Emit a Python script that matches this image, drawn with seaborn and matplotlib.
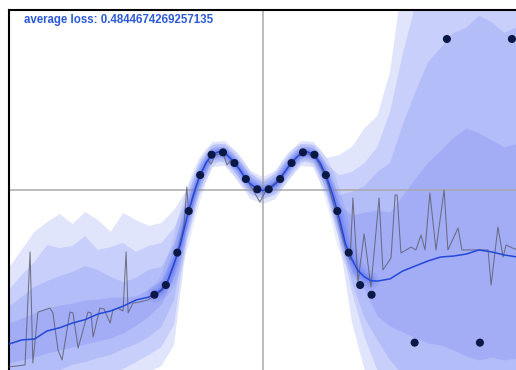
import matplotlib
matplotlib.use("Agg")
import matplotlib.pyplot as plt
import seaborn as sns
import numpy as np
import pandas as pd

# ---------------- data ----------------
grid_x = [-1.0, -0.95, -0.9, -0.85, -0.8, -0.75, -0.7, -0.65, -0.6, -0.55, -0.5,
          -0.45, -0.4, -0.35, -0.3, -0.25, -0.2, -0.15, -0.1, -0.05, 0.0,
          0.05, 0.1, 0.15, 0.2, 0.25, 0.3, 0.35, 0.4, 0.45, 0.5,
          0.55, 0.6, 0.65, 0.7, 0.75, 0.8, 0.85, 0.9, 0.95, 1.0]

upper1 = [-0.433, -0.333, -0.233, -0.178, -0.133, -0.189, -0.122, -0.167, -0.233, -0.128, -0.167,
          -0.2, -0.183, -0.111, 0.0, 0.167, 0.267, 0.272, 0.206, 0.106, 0.072,
          0.106, 0.206, 0.272, 0.267, 0.178, 0.194, 0.239, 0.344, 0.411, 0.656,
          1.167, 1.222, 1.278, 1.278, 1.278, 1.278, 1.278, 1.278, 1.278, 1.278]
upper2 = [-0.556, -0.472, -0.4, -0.306, -0.322, -0.311, -0.256, -0.333, -0.317, -0.294, -0.344,
          -0.311, -0.294, -0.211, -0.044, 0.139, 0.25, 0.256, 0.183, 0.089, 0.056,
          0.089, 0.183, 0.256, 0.25, 0.144, 0.083, 0.1, 0.15, 0.239, 0.433,
          0.756, 1.028, 1.111, 1.139, 1.139, 1.139, 1.139, 1.139, 1.139, 1.139]
upper3 = [-0.65, -0.594, -0.539, -0.506, -0.478, -0.456, -0.422, -0.444, -0.483, -0.511, -0.489,
          -0.444, -0.428, -0.3, -0.083, 0.117, 0.233, 0.239, 0.167, 0.072, 0.039,
          0.072, 0.167, 0.239, 0.233, 0.117, -0.028, -0.011, 0.022, 0.1, 0.15,
          0.361, 0.544, 0.711, 0.789, 0.872, 0.9, 0.967, 0.933, 0.872, 0.906]
upper4 = [-0.739, -0.711, -0.683, -0.656, -0.639, -0.628, -0.611, -0.606, -0.594, -0.594, -0.589,
          -0.55, -0.5, -0.356, -0.111, 0.1, 0.217, 0.222, 0.15, 0.056, 0.025,
          0.056, 0.15, 0.222, 0.217, 0.1, -0.083, -0.139, -0.122, -0.111, -0.122,
          -0.028, 0.067, 0.156, 0.222, 0.294, 0.344, 0.317, 0.278, 0.239, 0.261]
lower4 = [-0.961, -0.944, -0.928, -0.906, -0.889, -0.872, -0.856, -0.839, -0.822, -0.794, -0.75,
          -0.7, -0.633, -0.472, -0.194, 0.05, 0.183, 0.189, 0.117, 0.022, -0.006,
          0.022, 0.117, 0.189, 0.183, 0.05, -0.2, -0.456, -0.556, -0.7, -0.756,
          -0.789, -0.822, -0.85, -0.861, -0.889, -0.922, -0.944, -0.928, -0.944, -0.933]
lower3 = [-1.083, -1.056, -1.044, -1.028, -1.0, -0.972, -0.956, -0.933, -0.917, -0.883, -0.856,
          -0.817, -0.761, -0.611, -0.217, 0.028, 0.167, 0.172, 0.1, 0.0, -0.028,
          0.0, 0.1, 0.172, 0.167, 0.028, -0.222, -0.511, -0.711, -0.833, -0.944,
          -1.028, -1.083, -1.1, -1.111, -1.111, -1.111, -1.111, -1.111, -1.111, -1.111]
lower2 = [-1.167, -1.156, -1.139, -1.122, -1.1, -1.083, -1.056, -1.033, -1.022, -0.994, -0.956,
          -0.917, -0.872, -0.75, -0.244, 0.0, 0.15, 0.156, 0.078, -0.022, -0.05,
          -0.022, 0.078, 0.156, 0.15, 0.0, -0.244, -0.567, -0.817, -1.0, -1.083,
          -1.122, -1.156, -1.167, -1.194, -1.194, -1.194, -1.194, -1.194, -1.194, -1.194]
lower1 = [-1.278, -1.25, -1.233, -1.222, -1.194, -1.167, -1.156, -1.139, -1.122, -1.1, -1.056,
          -1.011, -0.978, -0.861, -0.289, -0.033, 0.128, 0.133, 0.056, -0.05, -0.078,
          -0.05, 0.056, 0.133, 0.128, -0.033, -0.278, -0.733, -1.0, -1.167, -1.222,
          -1.25, -1.278, -1.306, -1.333, -1.333, -1.333, -1.333, -1.333, -1.333, -1.333]

mean_x = [-1.0, -0.95, -0.9, -0.85, -0.8, -0.75, -0.7, -0.65, -0.6, -0.55, -0.5, -0.45,
          -0.425, -0.4, -0.375, -0.35, -0.325, -0.3, -0.275, -0.25, -0.225, -0.2, -0.175,
          -0.15, -0.125, -0.1, -0.075, -0.05, -0.025, 0.0, 0.025, 0.05, 0.075, 0.1, 0.125,
          0.15, 0.175, 0.2, 0.225, 0.25, 0.275, 0.3, 0.325, 0.35, 0.375, 0.4, 0.425,
          0.45, 0.5, 0.55, 0.6, 0.65, 0.7, 0.75, 0.8, 0.85, 0.9, 0.95, 1.0]
mean_y = [-0.856, -0.833, -0.828, -0.783, -0.765, -0.739, -0.72, -0.689, -0.672, -0.645, -0.611, -0.595,
          -0.578, -0.555, -0.505, -0.41, -0.30, -0.155, -0.03, 0.075, 0.15, 0.198, 0.212,
          0.205, 0.172, 0.13, 0.077, 0.035, 0.008, -0.003, 0.008, 0.035, 0.077, 0.13, 0.172,
          0.205, 0.212, 0.198, 0.15, 0.075, -0.03, -0.155, -0.30, -0.385, -0.45, -0.483, -0.504,
          -0.506, -0.494, -0.45, -0.422, -0.394, -0.372, -0.367, -0.356, -0.333, -0.344, -0.361, -0.372]

sample_x = [-1.0, -0.937, -0.917, -0.906, -0.886, -0.839, -0.827, -0.807, -0.791, -0.760, -0.748,
            -0.728, -0.689, -0.677, -0.669, -0.642, -0.626, -0.602, -0.591, -0.571, -0.551, -0.539,
            -0.531, -0.512, -0.484, -0.453, -0.433, -0.406, -0.382, -0.339, -0.311, -0.300, -0.293,
            -0.252, -0.217, -0.205, -0.189, -0.157, -0.142, -0.126, -0.091, -0.051, -0.012, 0.012,
            0.051, 0.091, 0.106, 0.134, 0.165, 0.201, 0.217, 0.248, 0.291, 0.327, 0.343, 0.354,
            0.374, 0.398, 0.425, 0.457, 0.472, 0.504, 0.520, 0.528, 0.543, 0.583, 0.602, 0.622,
            0.638, 0.657, 0.681, 0.713, 0.728, 0.768, 0.783, 0.886, 0.898, 0.925, 0.945, 0.957, 1.0]
sample_y = [-0.983, -0.972, -0.344, -0.961, -0.678, -0.656, -0.683, -0.889, -0.944, -0.678, -0.683,
            -0.878, -0.678, -0.683, -0.817, -0.656, -0.661, -0.739, -0.667, -0.656, -0.672, -0.344,
            -0.683, -0.628, -0.622, -0.611, -0.594, -0.567, -0.539, -0.361, -0.194, 0.017, -0.122,
            0.067, 0.167, 0.144, 0.194, 0.206, 0.139, 0.167, 0.111, 0.028, -0.067, 0.0,
            0.044, 0.111, 0.133, 0.183, 0.206, 0.189, 0.156, 0.067, -0.139, -0.333, -0.389, -0.044,
            -0.511, -0.244, -0.539, -0.044, -0.444, -0.378, -0.028, -0.028, -0.35, -0.317, -0.333, -0.25,
            -0.333, -0.017, -0.333, 0.0, -0.333, -0.211, -0.333, -0.333, -0.528, -0.206, -0.372, -0.306, -0.333]

points_x = [-0.4275, -0.3825, -0.3375, -0.2925, -0.2475, -0.2025, -0.1575, -0.1125, -0.0675, -0.0225,
            0.0225, 0.0675, 0.1125, 0.1575, 0.2025, 0.2475, 0.2925, 0.3375, 0.3825, 0.4275,
            0.597, 0.724, 0.854, 0.980]
points_y = [-0.582, -0.528, -0.348, -0.117, 0.083, 0.196, 0.209, 0.150, 0.061, 0.004,
            0.004, 0.061, 0.150, 0.209, 0.196, 0.083, -0.117, -0.348, -0.528, -0.582,
            -0.848, 0.839, -0.848, 0.839]

loss_text = "average loss: 0.4844674269257135"

# ---------------- plot ----------------
sns.set_style("white")
fig = plt.figure(figsize=(5.16, 3.70), dpi=100)
ax = fig.add_axes([9 / 516, 0.0, 508 / 516, 360 / 370])
ax.set_xlim(-1, 1)
ax.set_ylim(-1, 1)

band_color = "#4a5ff0"
band_alpha = 0.16
for lo, hi in [(lower1, upper1), (lower2, upper2), (lower3, upper3), (lower4, upper4)]:
    ax.fill_between(grid_x, lo, hi, color=band_color, alpha=band_alpha, linewidth=0, zorder=1)

# reference crosshair
ax.axvline(0, color="#a9a9a9", lw=1.1, zorder=2)
ax.axhline(0, color="#a9a9a9", lw=1.1, zorder=2)

df_mean = pd.DataFrame({"x": mean_x, "y": mean_y})
df_core = df_mean.iloc[12:47]
# soft glow around the well-constrained centre
for glow_w, glow_a in [(12, 0.10), (7.5, 0.14), (4, 0.2)]:
    sns.lineplot(data=df_core, x="x", y="y", ax=ax, color="#3a55ee", lw=glow_w, alpha=glow_a,
                 sort=False, estimator=None, zorder=2)

df_sample = pd.DataFrame({"x": sample_x, "y": sample_y})
sns.lineplot(data=df_sample, x="x", y="y", ax=ax, color="#5f6070", lw=0.75, alpha=0.85,
             sort=False, estimator=None, zorder=3)

sns.lineplot(data=df_mean, x="x", y="y", ax=ax, color="#2447d8", lw=1.1,
             sort=False, estimator=None, zorder=4)

df_pts = pd.DataFrame({"x": points_x, "y": points_y})
sns.scatterplot(data=df_pts, x="x", y="y", ax=ax, color="#0b1845", s=34,
                edgecolor="none", zorder=5)

ax.text(15 / 508, (370 - 20.5) / 360, loss_text, transform=ax.transAxes,
        ha="left", va="center", fontsize=8.3, fontweight="bold",
        family=["Liberation Sans", "DejaVu Sans"], color="#2a5ad8", zorder=6)

ax.set_xlabel("")
ax.set_ylabel("")
ax.set_xticks([])
ax.set_yticks([])
for side in ["right", "bottom"]:
    ax.spines[side].set_visible(False)
for side in ["left", "top"]:
    ax.spines[side].set_visible(True)
    ax.spines[side].set_color("black")
    ax.spines[side].set_linewidth(1.5)

fig.savefig("out.png", dpi=100)
